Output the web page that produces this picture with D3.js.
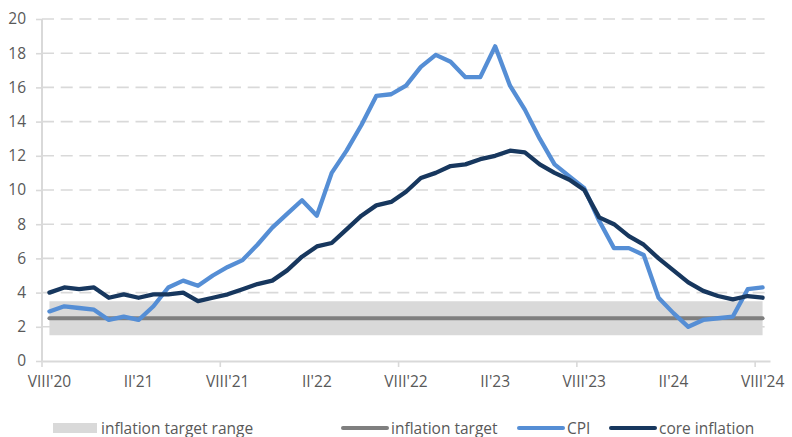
<!DOCTYPE html>
<html>
<head>
<meta charset="utf-8">
<title>CPI and core inflation</title>
<script src="https://cdnjs.cloudflare.com/ajax/libs/d3/7.8.5/d3.min.js"></script>
<style>
  body, html { margin: 0; padding: 0; background: #fff; }
  svg text { font-family: "Open Sans", Lato, sans-serif; fill: #595959; }
</style>
</head>
<body>
<svg id="chart" width="792" height="437"></svg>
<script>
// monthly, VIII'20 .. VIII'24
var months = [
  "VIII'20", "IX'20", "X'20", "XI'20", "XII'20",
  "I'21", "II'21", "III'21", "IV'21", "V'21", "VI'21", "VII'21", "VIII'21", "IX'21", "X'21", "XI'21", "XII'21",
  "I'22", "II'22", "III'22", "IV'22", "V'22", "VI'22", "VII'22", "VIII'22", "IX'22", "X'22", "XI'22", "XII'22",
  "I'23", "II'23", "III'23", "IV'23", "V'23", "VI'23", "VII'23", "VIII'23", "IX'23", "X'23", "XI'23", "XII'23",
  "I'24", "II'24", "III'24", "IV'24", "V'24", "VI'24", "VII'24", "VIII'24"
];
var tickMonths = ["VIII'20", "II'21", "VIII'21", "II'22", "VIII'22", "II'23", "VIII'23", "II'24", "VIII'24"];
var yearTicks = ["VIII'20", "VIII'21", "VIII'22", "VIII'23", "VIII'24"];

var cpi = [
  2.9, 3.2, 3.1, 3.0, 2.4,
  2.6, 2.4, 3.2, 4.3, 4.7, 4.4, 5.0, 5.5, 5.9, 6.8, 7.8, 8.6,
  9.4, 8.5, 11.0, 12.3, 13.8, 15.5, 15.6, 16.1, 17.2, 17.9, 17.5, 16.6,
  16.6, 18.4, 16.1, 14.7, 13.0, 11.5, 10.8, 10.1, 8.2, 6.6, 6.6, 6.2,
  3.7, 2.8, 2.0, 2.4, 2.5, 2.6, 4.2, 4.3
];
var core = [
  4.0, 4.3, 4.2, 4.3, 3.7,
  3.9, 3.7, 3.9, 3.9, 4.0, 3.5, 3.7, 3.9, 4.2, 4.5, 4.7, 5.3,
  6.1, 6.7, 6.9, 7.7, 8.5, 9.1, 9.3, 9.9, 10.7, 11.0, 11.4, 11.5,
  11.8, 12.0, 12.3, 12.2, 11.5, 11.0, 10.6, 10.0, 8.4, 8.0, 7.3, 6.8,
  6.0, 5.3, 4.6, 4.1, 3.8, 3.6, 3.8, 3.7
];
var targetValue = 2.5;
var targetRange = [1.5, 3.5];
var yTicks = [0, 2, 4, 6, 8, 10, 12, 14, 16, 18, 20];

var colors = { band: "#d9d9d9", target: "#7f7f7f", cpi: "#558ed5", core: "#17375e", grid: "#d9d9d9" };

var svg = d3.select("#chart");
var plotLeft = 42, plotRight = 770, plotTop = 19, plotBottom = 361;
var fontSize = "15.5px";

var x = d3.scaleBand().domain(months).range([plotLeft, plotRight]).padding(0);
var cx = function (m) { return x(m) + x.bandwidth() / 2; };
var y = d3.scaleLinear().domain([0, 20]).range([plotBottom, plotTop]);

// gridlines
svg.append("g")
  .selectAll("line")
  .data(yTicks.filter(function (d) { return d > 0; }))
  .enter().append("line")
  .attr("x1", plotLeft).attr("x2", 765)
  .attr("y1", function (d) { return y(d); })
  .attr("y2", function (d) { return y(d); })
  .attr("stroke", colors.grid)
  .attr("stroke-width", 1.6)
  .attr("stroke-dasharray", "12,6.7");

// target range band
var band = d3.area()
  .x(function (d) { return cx(d); })
  .y0(y(targetRange[0]))
  .y1(y(targetRange[1]));
svg.append("path").datum(months)
  .attr("d", band)
  .attr("fill", colors.band);

// y axis
var yAxis = svg.append("g")
  .attr("transform", "translate(" + plotLeft + ",0)")
  .call(d3.axisLeft(y).tickValues(yTicks).tickSize(6).tickPadding(10));
yAxis.select(".domain").remove();
yAxis.selectAll(".tick line").attr("stroke", colors.grid).attr("stroke-width", 1.6);
yAxis.selectAll(".tick text").style("font-size", fontSize).attr("fill", "#595959");
svg.append("line")
  .attr("x1", plotLeft).attr("x2", plotLeft).attr("y1", plotTop).attr("y2", plotBottom)
  .attr("stroke", colors.grid).attr("stroke-width", 2);

// x axis
var xAxis = svg.append("g")
  .attr("transform", "translate(0," + plotBottom + ")")
  .call(d3.axisBottom(x).tickValues(tickMonths).tickSize(0).tickPadding(15));
xAxis.select(".domain").attr("stroke", colors.grid).attr("stroke-width", 2);
xAxis.selectAll(".tick text").style("font-size", fontSize).attr("fill", "#595959");
svg.append("g").selectAll("line")
  .data(yearTicks)
  .enter().append("line")
  .attr("x1", function (d) { return x(d); })
  .attr("x2", function (d) { return x(d); })
  .attr("y1", plotBottom).attr("y2", plotBottom + 6)
  .attr("stroke", colors.grid).attr("stroke-width", 1.6);

// lines
function series(values) {
  return d3.line()
    .x(function (d, i) { return cx(months[i]); })
    .y(function (d) { return y(d); })(values);
}
svg.append("path")
  .attr("d", d3.line().x(function (d) { return cx(d); }).y(y(targetValue))(months))
  .attr("fill", "none").attr("stroke", colors.target)
  .attr("stroke-width", 4).attr("stroke-linecap", "round");
svg.append("path")
  .attr("d", series(cpi))
  .attr("fill", "none").attr("stroke", colors.cpi)
  .attr("stroke-width", 4.3).attr("stroke-linecap", "round").attr("stroke-linejoin", "round");
svg.append("path")
  .attr("d", series(core))
  .attr("fill", "none").attr("stroke", colors.core)
  .attr("stroke-width", 4.3).attr("stroke-linecap", "round").attr("stroke-linejoin", "round");

// legend
var ly = 428;
var legend = svg.append("g");
legend.append("rect").attr("x", 53).attr("y", ly - 5).attr("width", 44).attr("height", 10).attr("fill", colors.band);
legend.append("text").attr("x", 101).attr("y", ly + 5.5).style("font-size", fontSize).text("inflation target range");
var items = [
  { x: 343, label: "inflation target", color: colors.target },
  { x: 519, label: "CPI", color: colors.cpi },
  { x: 611, label: "core inflation", color: colors.core }
];
items.forEach(function (it) {
  legend.append("line")
    .attr("x1", it.x).attr("x2", it.x + 44).attr("y1", ly).attr("y2", ly)
    .attr("stroke", it.color).attr("stroke-width", 4).attr("stroke-linecap", "round");
  legend.append("text").attr("x", it.x + 48).attr("y", ly + 5.5)
    .style("font-size", fontSize).text(it.label);
});
</script>
</body>
</html>
